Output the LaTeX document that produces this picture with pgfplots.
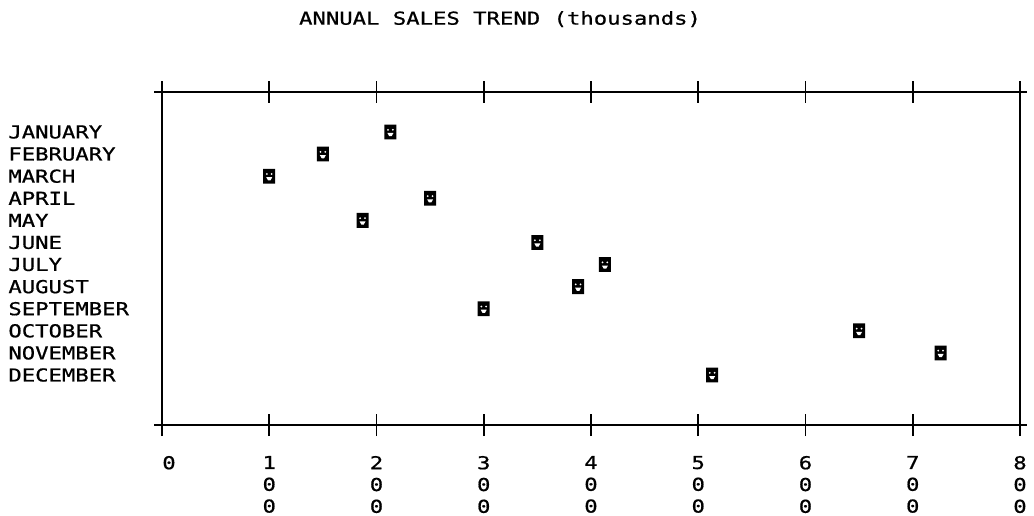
\documentclass[border=0pt]{standalone}
\usepackage{fontspec}
\setmainfont{DejaVu Sans Mono}[FakeStretch=1.25, FakeBold=0.8]
\usepackage{pgfplots}
\pgfplotsset{compat=1.18}

\pgfdeclareplotmark{smiley}{%
  \pgfsetcornersarced{\pgfpoint{1.4pt}{1.4pt}}%
  \pgfpathmoveto{\pgfpoint{-3pt}{0pt}}%
  \pgfpathlineto{\pgfpoint{-3pt}{3.7pt}}%
  \pgfpathlineto{\pgfpoint{3pt}{3.7pt}}%
  \pgfpathlineto{\pgfpoint{3pt}{-3.7pt}}%
  \pgfpathlineto{\pgfpoint{-3pt}{-3.7pt}}%
  \pgfpathclose
  \pgfsetfillcolor{black}%
  \pgfusepathqfill
  \pgfsetcornersarced{\pgfpointorigin}%
  \pgfsetfillcolor{white}%
  \pgfpathcircle{\pgfpoint{-1.2pt}{1.1pt}}{0.5pt}%
  \pgfpathcircle{\pgfpoint{1.2pt}{1.1pt}}{0.5pt}%
  \pgfpathmoveto{\pgfpoint{-1.5pt}{-0.5pt}}%
  \pgfpathlineto{\pgfpoint{1.5pt}{-0.5pt}}%
  \pgfpathlineto{\pgfpoint{0.6pt}{-2.1pt}}%
  \pgfpathlineto{\pgfpoint{-0.6pt}{-2.1pt}}%
  \pgfpathclose
  \pgfusepathqfill
}

\begin{document}
\begin{tikzpicture}
\useasboundingbox (-81pt,-45pt) rectangle (436pt,212.5pt);
\begin{axis}[
  at={(0pt,0pt)}, anchor=south west,
  scale only axis,
  width=429pt, height=166.5pt,
  xmin=0, xmax=800, ymin=-1.263, ymax=13.81,
  axis line style={line width=1pt, black},
  xtick={0,100,...,800},
  xticklabels={\hspace*{7pt}0,{1\\0\\0},{2\\0\\0},{3\\0\\0},{4\\0\\0},{5\\0\\0},{6\\0\\0},{7\\0\\0},{8\\0\\0}},
  xtick pos=both, xticklabel pos=lower,
  xtick align=center,
  major tick length=11pt,
  every tick/.style={black, line width=0.8pt},
  xticklabel style={anchor=north, align=center, inner sep=0pt, yshift=-9.8pt, font=\fontsize{8.9pt}{10.9pt}\selectfont},
  ytick={1,...,12},
  yticklabels={DECEMBER,NOVEMBER,OCTOBER,SEPTEMBER,AUGUST,JULY,JUNE,MAY,APRIL,MARCH,FEBRUARY,JANUARY},
  ytick style={draw=none},
  ytick pos=left,
  yticklabel style={anchor=west, inner sep=0pt, xshift=-77pt, font=\fontsize{8.9pt}{11pt}\selectfont},
  title={ANNUAL SALES TREND (thousands)},
  title style={at={(0.394,1.183)}, anchor=center, inner sep=0pt, font=\fontsize{8.9pt}{11pt}\selectfont},
  clip=false,
]
\addplot[only marks, mark=smiley] coordinates {
  (213,12) (150,11) (100,10) (250,9) (187,8) (350,7)
  (413,6) (388,5) (300,4) (650,3) (726,2) (513,1)
};
\draw[line width=1pt] (rel axis cs:-0.009,0) -- (rel axis cs:1.008,0);
\draw[line width=1pt] (rel axis cs:-0.009,1) -- (rel axis cs:1.008,1);
\end{axis}
\end{tikzpicture}
\end{document}
